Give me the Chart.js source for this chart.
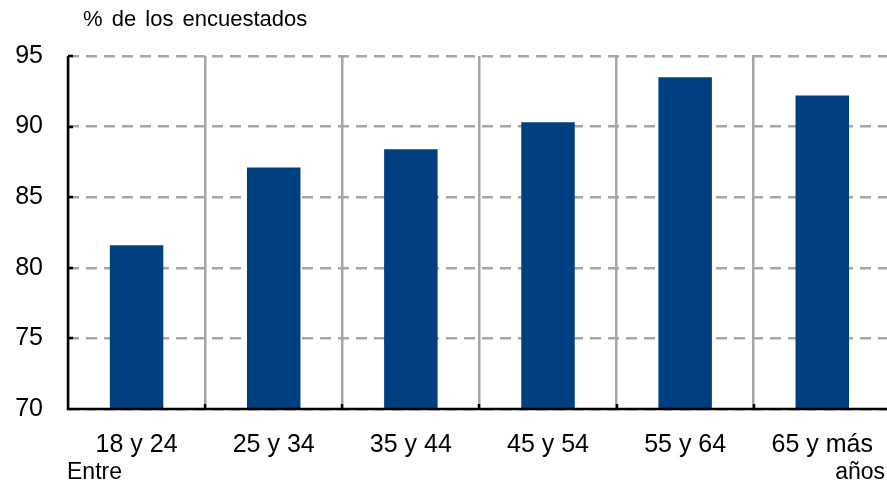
<!DOCTYPE html>
<html>
<head>
<meta charset="utf-8">
<script src="https://cdn.jsdelivr.net/npm/chart.js@4"></script>
<style>
  html, body { margin: 0; padding: 0; background: #fff; overflow: hidden; }
  #wrap { width: 894px; height: 483px; }
</style>
</head>
<body>
<div id="wrap"><canvas id="chart"></canvas></div>
<script>
const ageGroups = ['18 y 24', '25 y 34', '35 y 44', '45 y 54', '55 y 64', '65 y más'];
const respondents = [81.6, 87.1, 88.4, 90.3, 93.5, 92.2];
const yTicks = [70, 75, 80, 85, 90, 95];

const FONT = '"Liberation Sans", Arial, sans-serif';
const GRID = '#a6a6a6';

// axis lines, inward tick stubs and the loose captions
const decorations = {
  id: 'decorations',
  afterDraw(chart) {
    const { ctx, chartArea: a, scales: { x, y } } = chart;
    ctx.save();
    ctx.strokeStyle = '#000';
    ctx.lineWidth = 2.5;
    ctx.beginPath();
    ctx.moveTo(a.left, a.top);
    ctx.lineTo(a.left, a.bottom);
    ctx.lineTo(a.right, a.bottom);
    yTicks.forEach(v => {
      const py = Math.round(y.getPixelForValue(v));
      ctx.moveTo(a.left, py);
      ctx.lineTo(a.left + 5, py);
    });
    for (let i = 1; i < ageGroups.length; i++) {
      const px = Math.round((x.getPixelForValue(i - 1) + x.getPixelForValue(i)) / 2);
      ctx.moveTo(px, a.bottom);
      ctx.lineTo(px, a.bottom - 5);
    }
    ctx.stroke();

    ctx.fillStyle = '#000';
    ctx.textBaseline = 'middle';
    ctx.textAlign = 'left';
    ctx.font = '22px ' + FONT;
    ctx.wordSpacing = '3px';
    ctx.fillText('% de los encuestados', 83, 20);
    ctx.wordSpacing = '0px';
    ctx.font = '23px ' + FONT;
    ctx.fillText('Entre', 67, 473);
    ctx.textAlign = 'right';
    ctx.fillText('años', 885, 473);
    ctx.restore();
  }
};

new Chart(document.getElementById('chart'), {
  type: 'bar',
  data: {
    labels: ageGroups,
    datasets: [{
      data: respondents,
      backgroundColor: '#003f7f',
      categoryPercentage: 1,
      barPercentage: 0.39
    }]
  },
  options: {
    responsive: true,
    maintainAspectRatio: false,
    animation: false,
    layout: { padding: { top: 56, right: 0, left: 0, bottom: 0 } },
    plugins: { legend: { display: false }, tooltip: { enabled: false } },
    scales: {
      x: {
        offset: true,
        grid: {
          offset: true,
          color: GRID,
          lineWidth: 2.5,
          drawTicks: false
        },
        border: { display: false },
        ticks: {
          color: '#000',
          font: { family: FONT, size: 25 },
          padding: 21,
          maxRotation: 0
        },
        afterFit(scale) { scale.height = 74; }
      },
      y: {
        min: 70,
        max: 95,
        afterBuildTicks(scale) { scale.ticks = yTicks.map(v => ({ value: v })); },
        grid: {
          color: GRID,
          lineWidth: 2.5,
          drawTicks: false
        },
        border: { display: false, dash: [11, 7] },
        ticks: {
          color: '#000',
          font: { family: FONT, size: 25 },
          padding: 25
        },
        afterFit(scale) { scale.width = 68; }
      }
    }
  },
  plugins: [decorations]
});
</script>
</body>
</html>
